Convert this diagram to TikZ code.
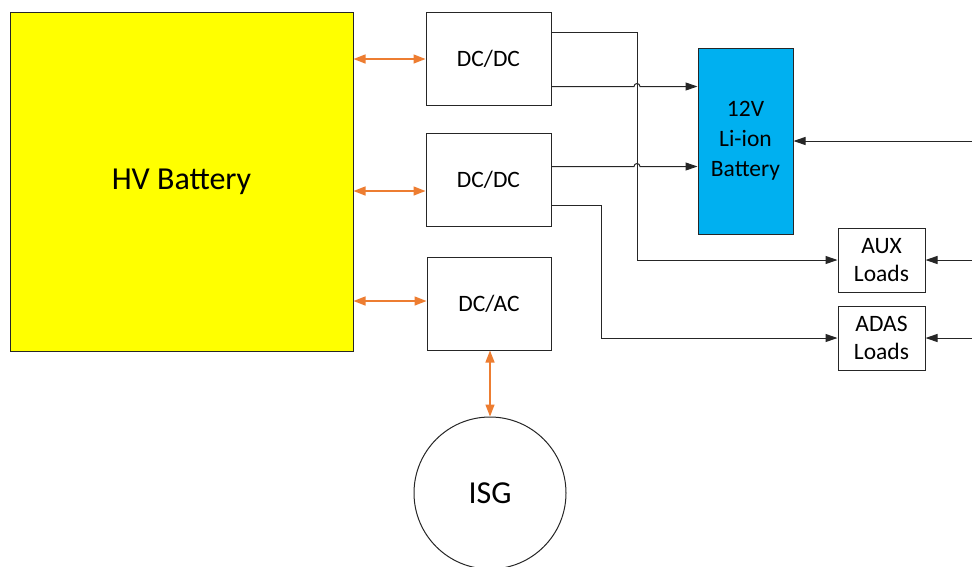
\documentclass[tikz,border=0pt]{standalone}
\usepackage{fontspec}
\setmainfont{Carlito}
\usetikzlibrary{arrows.meta,calc}
\definecolor{hvyellow}{HTML}{FFFF00}
\definecolor{libblue}{HTML}{00B0F0}
\definecolor{oarrow}{HTML}{ED7D31}
\begin{document}
\begin{tikzpicture}[x=1pt,y=-1pt,
  box/.style={draw=black!85,line width=1pt,rectangle,inner sep=0pt,align=center,font=\fontsize{23.5}{28}\selectfont},
  blk/.style={draw=black!85,line width=1pt},
  barr/.style={blk,-{Triangle[length=12pt,width=8pt]}},
  oarr/.style={draw=oarrow,line width=1.4pt,{Triangle[length=12pt,width=9pt]}-{Triangle[length=12pt,width=9pt]}}]
\useasboundingbox (0,0) rectangle (972,566);
\node[box,fill=hvyellow,minimum width=343,minimum height=339,font=\fontsize{32}{38}\selectfont] (hv) at (181.5,181.5) {HV Battery};
\node[box,minimum width=125,minimum height=93] (dc1) at (488.5,58.5) {DC/DC};
\node[box,minimum width=125,minimum height=93] (dc2) at (488.5,179.5) {DC/DC};
\node[box,minimum width=124,minimum height=93] (dcac) at (489,303.5) {DC/AC};
\node[box,fill=libblue,minimum width=95,minimum height=186,font=\fontsize{23.5}{30}\selectfont] (bat) at (745.5,141) {12V\\Li-ion\\Battery};
\node[box,minimum width=87,minimum height=64] (aux) at (881.5,260) {AUX\\Loads};
\node[box,minimum width=87,minimum height=64] (adas) at (881.5,338) {ADAS\\Loads};
\node[draw=black!85,line width=1pt,circle,minimum size=152,inner sep=0pt,font=\fontsize{32}{38}\selectfont] (isg) at (490,493) {ISG};
% orange links
\draw[oarr] (hv.east |- 0,59) -- (dc1.west |- 0,59);
\draw[oarr] (hv.east |- 0,191) -- (dc2.west |- 0,191);
\draw[oarr] (hv.east |- 0,301) -- (dcac.west |- 0,301);
\draw[oarr] (dcac.south -| isg.north) -- (isg.north);
% junction coordinates
\coordinate (j1) at (637,260);
\coordinate (j2) at (601,338);
\coordinate (r1) at (972,141);
\coordinate (r2) at (972,260);
\coordinate (r3) at (972,338);
% DC/DC 1 to AUX
\draw[barr] (dc1.east |- 0,32) -| (j1) -- (aux.west);
% DC/DC 1 to battery with hop
\draw[barr] (dc1.east |- 0,86.5) -- (634,86.5) arc[start angle=180,end angle=360,radius=3] -- (bat.west |- 0,86.5);
% DC/DC 2 to battery with hop
\draw[barr] (dc2.east |- 0,166.5) -- (634,166.5) arc[start angle=180,end angle=360,radius=3] -- (bat.west |- 0,166.5);
% DC/DC 2 to ADAS
\draw[barr] (dc2.east |- 0,205) -| (j2) -- (adas.west);
% right side inputs
\draw[barr] (r1) -- (bat.east);
\draw[barr] (r2) -- (aux.east);
\draw[barr] (r3) -- (adas.east);
\end{tikzpicture}
\end{document}
